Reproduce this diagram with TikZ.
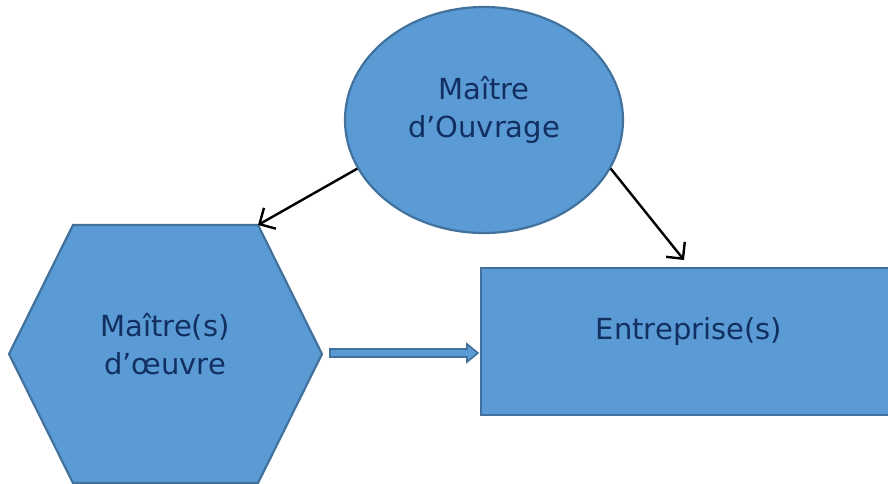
\documentclass[tikz,border=0pt]{standalone}
\usepackage{fontspec}
\setmainfont{DejaVu Sans}
\usetikzlibrary{shapes.geometric,arrows.meta}
\definecolor{shapefill}{HTML}{5B9BD5}
\definecolor{shapeedge}{HTML}{41719C}
\definecolor{labelink}{HTML}{112F61}
\tikzset{
  shapestyle/.style={fill=shapefill,draw=shapeedge,line width=2.2pt},
  label/.style={text=labelink,font=\fontsize{29}{38}\selectfont,align=center,inner sep=0pt},
  link/.style={draw=black,line width=2.4pt,-{Straight Barb[length=12pt,width=24pt,line width=2.4pt]}}
}
\begin{document}
\begin{tikzpicture}[x=1pt,y=-1pt]
  \useasboundingbox (0,0) rectangle (888,483);
  \begin{scope}
    \clip (0,0) rectangle (888,483);
    % Maître d'Ouvrage
    \node[shapestyle,ellipse,minimum width=278pt,minimum height=226pt,inner sep=0pt] (mo) at (484,120) {};
    \node[label] (molabel) at (484,110) {Maître\\d’Ouvrage};
    % Maître(s) d'œuvre: hexagon
    \coordinate (hexTR) at (258,225);
    \coordinate (hexR) at (322,354);
    \coordinate (hexL) at (9,354);
    \draw[shapestyle] (73,225) -- (hexTR) -- (hexR) -- (258,483) -- (73,483) -- (hexL) -- cycle;
    \node[label] (moe) at (165,344) {Maître(s)\\d’œuvre};
    % Entreprise(s)
    \node[shapestyle,rectangle,minimum width=418pt,minimum height=147pt,inner sep=0pt,anchor=north west] (ent) at (480,267) {};
    \node[label] (entlabel) at (689,331) {Entreprise(s)};
    % block arrow between the two
    \draw[shapestyle,line width=1.6pt] (330,349) -- (467,349) -- (467,344) -- (478,353) -- (467,362) -- (467,357) -- (330,357) -- cycle;
  \end{scope}
  % relations
  \coordinate (entTop) at (684,260);
  \draw[link] (mo.201) -- (hexTR);
  \draw[link] (mo.-21) -- (entTop);
\end{tikzpicture}
\end{document}
